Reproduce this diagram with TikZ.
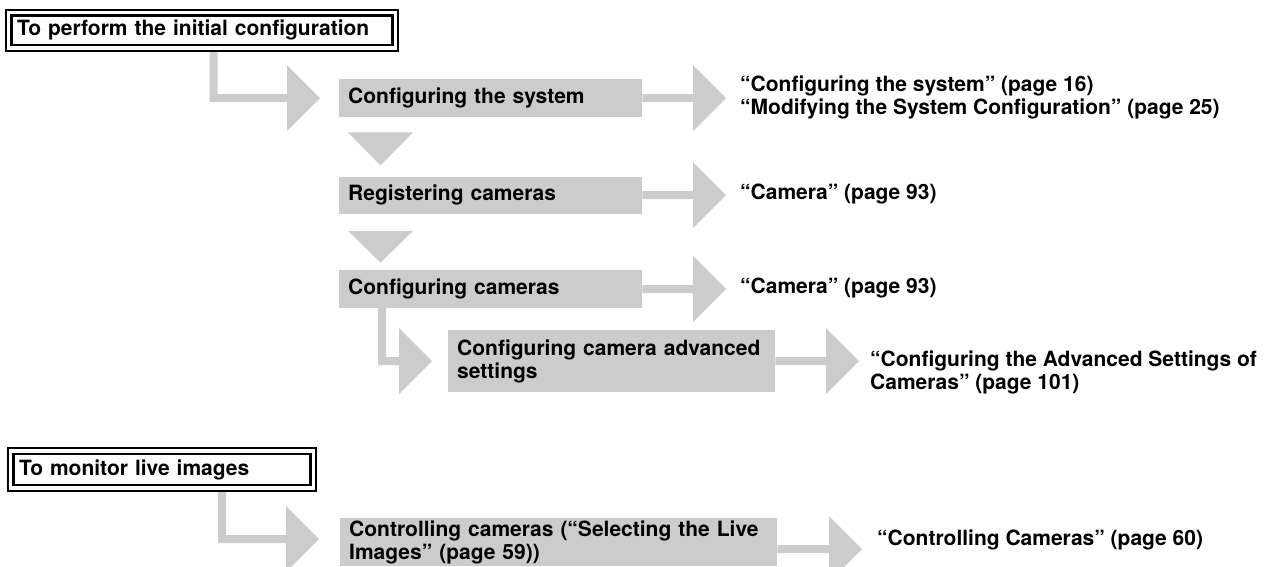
\documentclass[tikz,border=0pt]{standalone}
\usepackage{fontspec}
\setmainfont{TeX Gyre Heros}
\usetikzlibrary{calc,positioning}

\definecolor{flowgray}{RGB}{204,204,204}
\newcommand{\flowfont}{\bfseries\fontsize{21}{23}\selectfont}
\tikzstyle{heading} = [draw, double, line width=2.4pt, double distance=3.2pt, outer sep=4pt, anchor=north west, inner xsep=8.25pt, inner ysep=0pt, align=left, font=\flowfont]
\tikzstyle{stepbox} = [fill=flowgray, anchor=north west, inner xsep=9pt, inner ysep=0pt, align=left, font=\flowfont]
\tikzstyle{pageref} = [anchor=west, inner sep=0pt, align=left, font=\flowfont]
\tikzstyle{flow} = [fill=flowgray]

% block arrow: #1 start, #2 tip
\newcommand{\flowarrow}[2]{%
  \fill[flow] ($(#2 -| #1)+(0,-4)$) -- ($(#2)+(-33,-4)$) -- ($(#2)+(-33,-33)$) -- (#2)
    -- ($(#2)+(-33,33)$) -- ($(#2)+(-33,4)$) -- ($(#2 -| #1)+(0,4)$) -- cycle;}
% bent block arrow: #1 start, #2 corner, #3 tip
\newcommand{\flowbend}[3]{%
  \fill[flow] ($(#2 |- #1)+(-4,0)$) -- ($(#2)+(-4,4)$) -- ($(#3)+(-33,4)$) -- ($(#3)+(-33,33)$) -- (#3)
    -- ($(#3)+(-33,-33)$) -- ($(#3)+(-33,-4)$) -- ($(#2)+(4,-4)$) -- ($(#2 |- #1)+(4,0)$) -- cycle;}

\begin{document}
\begin{tikzpicture}[x=1pt, y=-1pt]
\useasboundingbox (0,0) rectangle (1279,566);
\clip (0,0) rectangle (1279,566);

% Nodes
\node (initial) [heading, minimum width=386.5pt, minimum height=35.5pt, text width=370pt] at (4.75,8.5) {To perform the initial configuration};
\node (system) [stepbox, minimum width=303pt, minimum height=38pt, text width=285pt] at (339,79) {Configuring the system};
\node (register) [stepbox, below=59pt of system.south west, anchor=north west, minimum width=303pt, minimum height=37pt, text width=285pt] {Registering cameras};
\node (configure) [stepbox, below=56pt of register.south west, anchor=north west, minimum width=303pt, minimum height=38pt, text width=285pt] {Configuring cameras};
\node (advanced) [stepbox, minimum width=327pt, minimum height=62pt, text width=309pt] at (448,330) {Configuring camera advanced\\settings};

\node (monitor) [heading, minimum width=302.5pt, minimum height=37pt, text width=286pt] at (6.75,447) {To monitor live images};
\node (controlling) [stepbox, minimum width=437pt, minimum height=48pt, text width=419pt] at (340,518) {Controlling cameras (“Selecting the Live\\Images” (page 59))};

\node (sysref) [pageref] at (740,97) {“Configuring the system” (page 16)\\“Modifying the System Configuration” (page 25)};
\node (regref) [pageref] at (740,194) {“Camera” (page 93)};
\node (confref) [pageref] at (740,288) {“Camera” (page 93)};
\node (advref) [pageref] at (870,372) {“Configuring the Advanced Settings of\\Cameras” (page 101)};
\node (ctrlref) [pageref] at (877,540) {“Controlling Cameras” (page 60)};

% Arrows
\coordinate (systip) at ($(system.east -| sysref.west)+(-14,0)$);
\coordinate (regtip) at ($(register.east -| regref.west)+(-14,0)$);
\coordinate (conftip) at ($(configure.east -| confref.west)+(-14,0)$);
\coordinate (advtip) at ($(advanced.east -| advref.west)+(-11,0)$);
\coordinate (ctrltip) at ($(controlling.north -| ctrlref.west)+(-15,31)$);
\flowarrow{system.east}{systip}
\flowarrow{register.east}{regtip}
\flowarrow{configure.east}{conftip}
\flowarrow{advanced.east}{advtip}
\flowarrow{controlling.east}{ctrltip}

\fill[flow] ($(system.south west)+(9,15)$) -- ++(65,0) -- ($(register.north west)+(41.5,-11)$) -- cycle;
\fill[flow] ($(register.south west)+(9,17)$) -- ++(65,0) -- ($(configure.north west)+(41.5,-7)$) -- cycle;

\coordinate (bend1) at (213.5,98);
\coordinate (systail) at ($(system.west)+(-19,0)$);
\flowbend{initial.south}{bend1}{systail}
\coordinate (bend2) at (382,361);
\coordinate (advtail) at ($(advanced.west)+(-16,0)$);
\flowbend{configure.south}{bend2}{advtail}
\coordinate (bend3) at (222,539);
\coordinate (ctrltail) at (319,539);
\flowbend{monitor.south}{bend3}{ctrltail}

\end{tikzpicture}
\end{document}
